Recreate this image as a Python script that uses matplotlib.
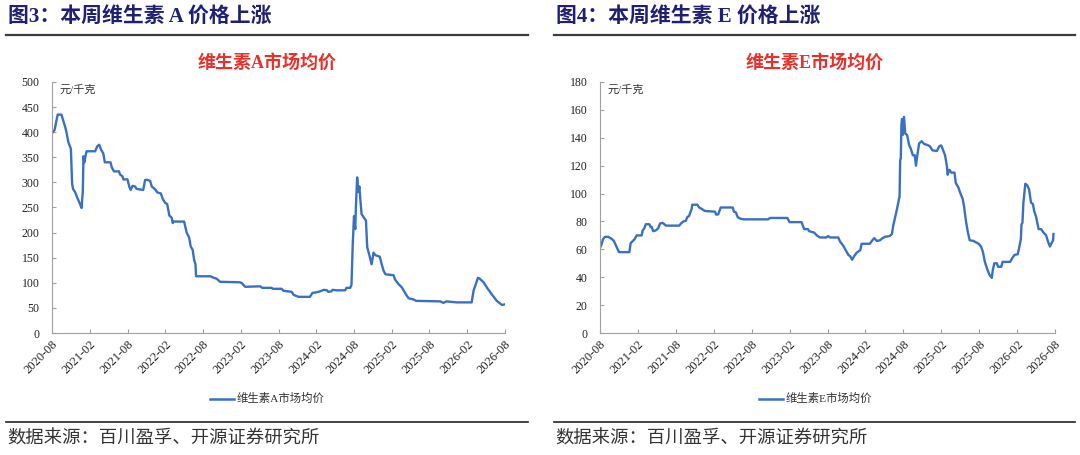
import matplotlib
matplotlib.use("Agg")
import matplotlib.pyplot as plt
from matplotlib.lines import Line2D

W, H = 1080, 455
CJK = ['Liberation Serif', 'Noto Sans CJK SC', 'DejaVu Sans']
plt.rcParams['font.family'] = CJK

tick_labels = ['2020-08', '2021-02', '2021-08', '2022-02', '2022-08', '2023-02', '2023-08',
               '2024-02', '2024-08', '2025-02', '2025-08', '2026-02', '2026-08']

# months since 2020-08, price (yuan/kg)
va_months = [0, 0.4, 0.9, 1.5, 2.1, 2.3, 2.6, 3.0, 3.2, 3.35, 3.7, 4.0, 4.45, 4.7, 4.9, 5.0, 5.15,
             5.35, 5.5, 6.85, 7.2, 7.5, 7.8, 8.15, 8.4, 9.3, 9.5, 9.85, 10.65, 10.8, 11.2, 11.35,
             12.0, 12.3, 12.5, 12.8, 13.2, 13.45, 14.5, 14.8, 15.15, 15.6, 15.85, 16.4, 16.75,
             17.3, 17.6, 18.0, 18.3, 18.65, 19.0, 19.2, 19.3, 21.0, 21.4, 21.8, 22.05, 22.35,
             22.6, 22.8, 22.9, 25.2, 25.5, 26.2, 26.7, 29.9, 30.2, 30.7, 33.1, 33.4, 34.9, 35.1,
             36.5, 36.8, 38.1, 38.4, 39.2, 41.0, 41.4, 42.0, 42.6, 43.2, 43.7, 43.9, 44.4, 44.6,
             45.2, 46.6, 46.8, 47.4, 47.6, 47.8, 48.0, 48.2, 48.3, 48.5, 48.7, 48.85, 49.0, 49.2,
             49.5, 49.9, 50.1, 50.4, 50.8, 51.1, 51.4, 52.1, 52.4, 52.7, 53.0, 54.3, 54.5, 55.1,
             55.6, 56.4, 56.7, 57.4, 57.9, 61.7, 62.2, 62.7, 63.5, 64.3, 66.7, 67.0, 67.3, 67.7,
             68.0, 68.6, 69.1, 69.9, 70.7, 71.5, 72.0]
va_price = [398, 404, 435, 435, 410, 400, 380, 367, 297, 287, 280, 270, 257, 249, 284, 352, 340,
            354, 362, 362, 372, 375, 365, 358, 340, 340, 330, 322, 322, 316, 312, 306,
            306, 291, 285, 293, 292, 287, 285, 305, 305, 303, 292, 286, 280,
            278, 267, 259, 257, 234, 230, 219, 222, 222, 200, 190, 172, 166,
            145, 137, 113, 113, 111, 108, 102, 101, 99, 92, 93, 90, 90, 88,
            88, 84, 82, 76, 72, 72, 80, 81, 83, 86, 85, 82, 83, 86,
            85, 85, 90, 90, 96, 177, 233, 207, 250, 310, 281, 292, 267, 237,
            231, 224, 171, 157, 137, 160, 155, 152, 137, 124, 117, 115, 107, 97,
            91, 74, 69, 67, 64, 63, 60, 63, 62, 61, 61, 84, 95, 110,
            108, 101, 91, 77, 64, 56, 57]

ve_months = [0, 0.2, 0.5, 0.8, 1.3, 1.85, 2.2, 2.6, 3.0, 4.65, 4.85, 5.2, 5.5, 5.8, 6.6, 6.75,
             7.0, 7.25, 7.8, 8.0, 8.2, 8.4, 8.8, 9.2, 9.5, 9.9, 10.45, 12.55, 12.8, 13.2, 13.6,
             13.8, 14.1, 14.5, 14.6, 15.4, 15.7, 16.1, 16.6, 18.2, 18.35, 18.7, 19.1, 21.0, 21.2,
             21.5, 21.8, 22.2, 22.7, 26.6, 26.9, 29.65, 30.0, 31.9, 32.3, 32.9, 33.1, 33.9, 34.3,
             34.8, 35.8, 36.1, 36.4, 37.7, 38.0, 38.5, 39.0, 39.3, 39.6, 39.9, 40.2, 40.6, 41.2,
             41.4, 42.7, 43.1, 43.4, 43.8, 44.3, 44.7, 45.1, 45.8, 46.2, 46.4, 46.7, 47.0, 47.2,
             47.4, 47.5, 47.6, 47.7, 47.8, 47.9, 48.1, 48.3, 48.6, 48.9, 49.2, 49.5, 49.8, 50.0,
             50.2, 50.5, 50.9, 51.3, 51.7, 52.2, 52.6, 53.3, 53.7, 54.0, 54.3, 54.6, 54.9, 55.0,
             55.3, 55.6, 56.1, 56.3, 56.7, 57.0, 57.4, 57.6, 57.9, 58.2, 58.5, 59.1, 59.9, 60.3,
             60.6, 60.9, 61.3, 61.6, 62.0, 62.15, 62.4, 62.8, 63.0, 63.5, 63.7, 64.9, 65.2, 65.6,
             66.1, 66.3, 66.6, 66.7, 66.85, 67.0, 67.3, 67.6, 67.9, 68.2, 68.5, 68.7, 69.0, 69.4,
             69.8, 70.1, 70.6, 70.9, 71.2, 71.4, 71.7, 71.75]
ve_price = [61, 63, 67.5, 69, 69, 67.5, 66, 62, 58, 58, 64.5, 66, 67.5, 70, 70, 73.5,
            75, 78, 78, 76, 76, 73, 73.5, 75, 78.5, 79, 77, 77, 78.5, 80, 80.5,
            83, 84, 89, 92, 92, 90, 89, 87.5, 87, 85, 85, 90, 90, 87,
            86.5, 83, 82, 81.5, 81.5, 82.5, 82.5, 79.5, 79.5, 74.5, 74.5, 73, 72, 70,
            68.5, 68.5, 69.5, 68.5, 68.5, 65.5, 62.5, 58.5, 56, 55, 52.5, 55, 57.5, 59.5,
            64, 64, 66.5, 68, 66, 66.5, 68, 69, 69.5, 71, 77, 83, 89, 93.5,
            98, 124, 125, 150, 153.5, 142, 155, 143, 142, 135, 132, 127.5, 127.5, 120,
            127, 136, 137.5, 135.5, 135, 134, 131, 130.5, 134, 134.5, 131, 127.5, 119.5, 113.5,
            117, 115, 115, 107.5, 104.5, 100.5, 96, 91, 80.5, 72.5, 66.5, 66, 64, 62,
            58, 51, 45.5, 42, 39.5, 45, 50, 50, 47.5, 47.5, 51, 51, 53.5, 56,
            56.5, 60.5, 67.5, 78, 79, 93.5, 107, 106, 103, 93.5, 92.5, 87.5, 83.5, 74.5,
            74.5, 72.5, 70, 65.5, 62, 64, 66.5, 71]

LINE = '#3A70C2'
NAVY = '#1F1F73'
RED = '#E8312A'

fig = plt.figure(figsize=(W / 100, H / 100), dpi=100)


def fx(px):
    return px / W


def fy(py):
    return 1 - py / H


def panel(x0, x1, ax_l, ax_r, header, title, title_cx, months, price, ymax, ystep, name, leg_x):
    # header + rule
    fig.text(fx(x0 + 2), fy(18), header, fontsize=15, fontweight='bold', color=NAVY,
             va='center', ha='left', family=CJK)
    fig.add_artist(Line2D([fx(x0), fx(x1)], [fy(35), fy(35)], color='#3c3c3c', lw=1.6))

    ax = fig.add_axes([fx(ax_l), fy(333), fx(ax_r - ax_l), (333 - 82) / H])
    ax.plot(months, price, color=LINE, lw=1.7, solid_joinstyle='round')
    ax.set_xlim(0, 72)
    ax.set_ylim(0, ymax)
    ax.set_xticks(range(0, 73, 6))
    ax.set_xticklabels(tick_labels, rotation=45, ha='right', va='top', rotation_mode='anchor',
                       fontsize=9, family='Liberation Serif')
    ax.set_yticks(range(0, ymax + 1, ystep))
    ax.set_yticklabels([str(v) for v in range(0, ymax + 1, ystep)], fontsize=8.5,
                       family='Liberation Serif')
    for s in ('top', 'right'):
        ax.spines[s].set_visible(False)
    for s in ('left', 'bottom'):
        ax.spines[s].set_color('#a0a0a0')
        ax.spines[s].set_linewidth(0.8)
    ax.tick_params(axis='both', direction='in', length=3, width=0.8, color='#a0a0a0',
                   labelcolor='#222222')
    ax.tick_params(axis='y', pad=9)
    ax.tick_params(axis='x', pad=4)

    fig.text(fx(title_cx), fy(63), title, fontsize=13, fontweight='bold', color=RED,
             ha='center', va='center', family=CJK)
    fig.text(fx(ax_l + 7), fy(90), '元/千克', fontsize=8, color='#333333',
             ha='left', va='center', family=CJK)

    # legend
    fig.add_artist(Line2D([fx(leg_x), fx(leg_x + 24)], [fy(398.5), fy(398.5)], color=LINE, lw=1.8))
    fig.text(fx(leg_x + 27), fy(398.5), name, fontsize=8.2, color='#333333',
             ha='left', va='center', family=CJK)

    # footer
    fig.add_artist(Line2D([fx(x0), fx(x1)], [fy(421.5), fy(421.5)], color='#222222', lw=1.2))
    fig.text(fx(x0 + 1), fy(438.5), '数据来源：百川盈孚、开源证券研究所', fontsize=13.2,
             color='#333333', ha='left', va='center', family=CJK)
    return ax


panel(6, 528, 52, 505, '图3：本周维生素 A 价格上涨', '维生素A市场均价', 267,
      va_months, va_price, 500, 50, '维生素A市场均价', 210)
panel(554, 1075, 600, 1055, '图4：本周维生素 E 价格上涨', '维生素E市场均价', 815,
      ve_months, ve_price, 180, 20, '维生素E市场均价', 759)

fig.savefig('out.png', dpi=100)
